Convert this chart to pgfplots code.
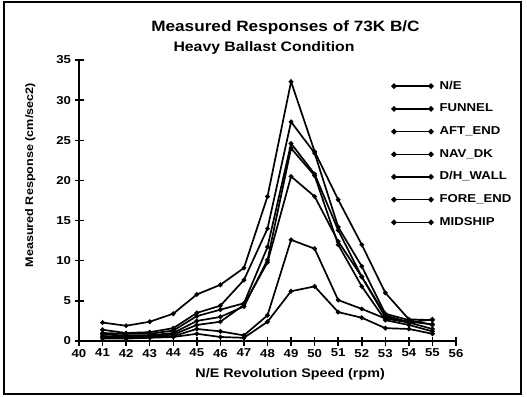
\documentclass[border=0pt]{standalone}
\usepackage{fontspec}
\setmainfont{Liberation Sans}[FakeStretch=1.15]
\usepackage{pgfplots}
\pgfplotsset{compat=1.18}
\pgfplotsset{ser/.style={black, solid, line width=1.7bp, mark=*, mark size=1.4pt, mark options={solid}}}
\begin{document}
\begin{tikzpicture}[x=1bp,y=1bp]
\path[use as bounding box] (0,0) rectangle (527,396);
\draw[line width=1.8bp] (4,2) rectangle (521,394);
\node[anchor=base,font=\bfseries\fontsize{15}{17}\selectfont] at (285.5,365) {Measured Responses of 73K B/C};
\node[anchor=base,font=\bfseries\fontsize{13.8}{16}\selectfont] at (264,345) {Heavy Ballast Condition};
\begin{axis}[
  at={(79bp,55bp)}, anchor=south west,
  scale only axis, width=377bp, height=281bp,
  xmin=40, xmax=56, ymin=0, ymax=35,
  xtick={40,41,...,56}, ytick={0,5,...,35},
  axis x line*=bottom, axis y line*=left,
  axis line style={line width=2bp},
  tick style={line width=1.5bp, black},
  major tick length=9bp, tick align=center,
  /pgf/number format/assume math mode=true,
  ticklabel style={font=\bfseries\fontsize{11.5}{13}\selectfont},
  xlabel={N/E Revolution Speed (rpm)},
  ylabel={Measured Response (cm/sec2)},
  xlabel style={at={(axis description cs:0.56,0)}, anchor=base, yshift=-36bp, font=\bfseries\fontsize{12.5}{15}\selectfont},
  ylabel style={at={(axis description cs:-0.122,0.59)}, anchor=base, font=\bfseries\fontsize{11}{13}\selectfont},
  legend style={at={(axis description cs:0.82,0.936)}, anchor=north west, draw=none, fill=none,
    font=\bfseries\fontsize{11.5}{13}\selectfont,
    nodes={inner sep=0pt, text height=9bp, text depth=3bp},
    row sep=10.7bp, column sep=6bp},
  legend cell align=left,
  legend image code/.code={\draw[#1, mark=none, line width=1.4bp] (0bp,0bp) -- (37bp,0bp);
     \fill (0bp,0bp) circle (1.8bp); \fill (37bp,0bp) circle (1.8bp);},
]
\addplot[ser] coordinates {(41,2.3) (42,1.9) (43,2.4) (44,3.4) (45,5.8) (46,7.0) (47,9.1) (48,18.0) (49,32.3) (50,23.6) (51,17.6) (52,12.0) (53,6.0) (54,2.7) (55,2.6)};
\addlegendentry{N/E}
\addplot[ser] coordinates {(41,1.4) (42,1.0) (43,1.1) (44,1.6) (45,3.5) (46,4.4) (47,7.6) (48,14.0) (49,27.3) (50,23.4) (51,14.2) (52,9.3) (53,3.4) (54,2.6) (55,2.0)};
\addlegendentry{FUNNEL}
\addplot[ser] coordinates {(41,1.0) (42,0.9) (43,0.9) (44,1.3) (45,3.1) (46,3.9) (47,4.7) (48,11.7) (49,24.6) (50,20.8) (51,13.8) (52,8.0) (53,3.2) (54,2.3) (55,1.5)};
\addlegendentry{AFT\_END}
\addplot[ser] coordinates {(41,0.8) (42,0.7) (43,0.7) (44,1.0) (45,2.5) (46,3.0) (47,4.3) (48,10.1) (49,24.0) (50,20.6) (51,12.0) (52,6.8) (53,2.6) (54,2.0) (55,1.2)};
\addlegendentry{NAV\_DK}
\addplot[ser] coordinates {(41,0.6) (42,0.5) (43,0.6) (44,0.8) (45,2.0) (46,2.4) (47,4.5) (48,9.8) (49,20.5) (50,18.0) (51,12.4) (52,8.0) (53,3.0) (54,2.4) (55,2.1)};
\addlegendentry{D/H\_WALL}
\addplot[ser] coordinates {(41,0.5) (42,0.4) (43,0.5) (44,0.6) (45,1.5) (46,1.2) (47,0.7) (48,3.2) (49,12.6) (50,11.5) (51,5.1) (52,4.0) (53,2.8) (54,2.3) (55,2.7)};
\addlegendentry{FORE\_END}
\addplot[ser] coordinates {(41,0.3) (42,0.3) (43,0.4) (44,0.5) (45,0.9) (46,0.5) (47,0.4) (48,2.4) (49,6.2) (50,6.8) (51,3.6) (52,2.9) (53,1.6) (54,1.5) (55,0.9)};
\addlegendentry{MIDSHIP}
\end{axis}
\end{tikzpicture}
\end{document}
